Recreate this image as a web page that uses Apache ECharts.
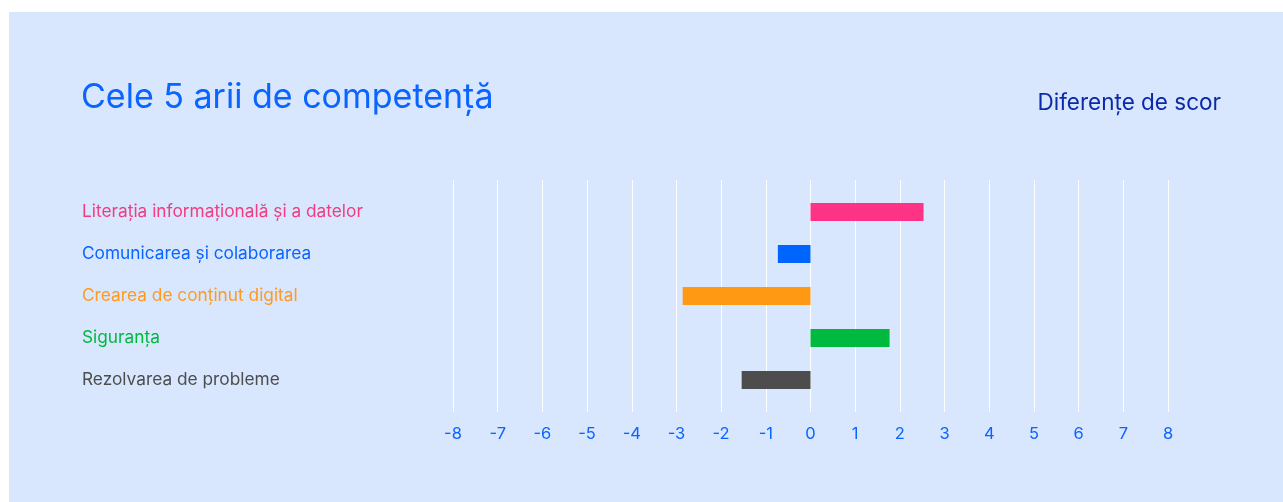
<!DOCTYPE html>
<html>
<head>
<meta charset="utf-8">
<script src="https://cdn.jsdelivr.net/npm/echarts@6/dist/echarts.min.js"></script>
<style>
html,body{margin:0;padding:0;background:#ffffff;}
#chart{width:1283px;height:502px;}
</style>
</head>
<body>
<div id="chart"></div>
<script>
var categories = [
  "Literația informațională și a datelor",
  "Comunicarea și colaborarea",
  "Crearea de conținut digital",
  "Siguranța",
  "Rezolvarea de probleme"
];
var values = [2.53, -0.73, -2.86, 1.77, -1.54];
var barColors = ["#ff3385", "#0064ff", "#ff9914", "#00b93f", "#4d4d4d"];
var labelColors = ["#f03c80", "#0a64ff", "#ff9a1f", "#00b940", "#4d4d4d"];
var xMin = -8, xMax = 8, xInterval = 1;
var titleText = "Cele 5 arii de competență";
var subtitleText = "Diferențe de scor";

var chart = echarts.init(document.getElementById('chart'), null, {renderer: 'canvas'});
var FONT = 'Inter, "Noto Sans", sans-serif';
var option = {
  animation: false,
  backgroundColor: '#ffffff',
  graphic: [
    {type: 'rect', left: 9, top: 12, shape: {width: 1274, height: 490}, style: {fill: '#d8e6fe'}, z: -10}
  ],
  title: [
    {text: titleText, left: 76, top: 76, textStyle: {fontFamily: FONT, fontSize: 34, fontWeight: 'normal', color: '#0a64ff'}},
    {text: subtitleText, right: 57, top: 87, textStyle: {fontFamily: FONT, fontSize: 22.5, fontWeight: 'normal', color: '#0a2aa8'}}
  ],
  grid: [
    {left: 453, right: 115, top: 180, bottom: 90},
    {left: 453, right: 115, top: 191, bottom: 101}
  ],
  xAxis: [
    {
      type: 'value', gridIndex: 0, min: xMin, max: xMax, interval: xInterval,
      axisLine: {show: false}, axisTick: {show: false},
      splitLine: {show: true, lineStyle: {color: '#ffffff', width: 1, opacity: 0.9}},
      axisLabel: {color: '#0a64ff', fontFamily: FONT, fontSize: 16.5, margin: 14}
    },
    {
      type: 'value', gridIndex: 1, min: xMin, max: xMax, interval: xInterval,
      show: false, splitLine: {show: false}
    }
  ],
  yAxis: [
    {type: 'category', gridIndex: 0, data: [], show: false},
    {
      type: 'category', gridIndex: 1, data: categories, inverse: true,
      axisLine: {show: false}, axisTick: {show: false}, splitLine: {show: false},
      axisLabel: {
        align: 'left', margin: 371, fontFamily: FONT, fontSize: 17.3, padding: [2, 0, 0, 0],
        color: function (v, i) { return labelColors[categories.indexOf(v)]; }
      }
    }
  ],
  series: [
    {
      type: 'bar', xAxisIndex: 1, yAxisIndex: 1, barWidth: 18,
      data: values.map(function (v, i) { return {value: v, itemStyle: {color: barColors[i]}}; })
    }
  ]
};
chart.setOption(option);
</script>
</body>
</html>
